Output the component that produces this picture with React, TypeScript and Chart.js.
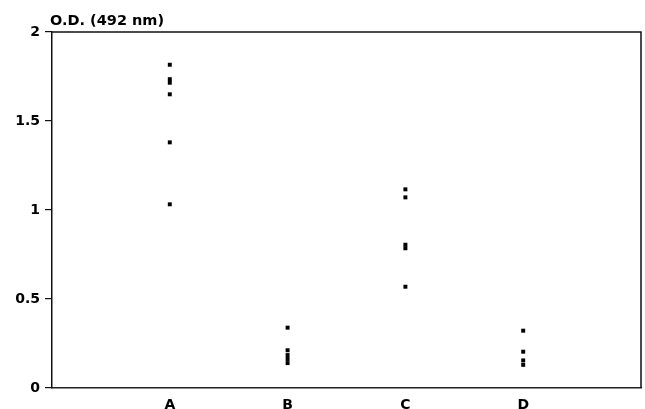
import React, { useEffect, useRef } from "react";
import { Chart, registerables } from "chart.js";

Chart.register(...registerables);

const categories = ["A", "B", "C", "D"];
const valuesA = [1.816, 1.735, 1.715, 1.65, 1.38, 1.032];
const valuesB = [0.339, 0.212, 0.185, 0.163, 0.14];
const valuesC = [1.116, 1.071, 0.805, 0.785, 0.569];
const valuesD = [0.322, 0.204, 0.155, 0.13];
const yTicks = [0, 0.5, 1, 1.5, 2];
const yTitle = "O.D. (492 nm)";

const FONT = "'DejaVu Sans', sans-serif";

export default function App() {
  const ref = useRef<HTMLCanvasElement | null>(null);

  useEffect(() => {
    if (!ref.current) return;
    const all = [valuesA, valuesB, valuesC, valuesD];
    const points = all.flatMap((arr, i) => arr.map((v) => ({ x: i + 1, y: v })));

    const framePlugin = {
      id: "frame",
      afterDraw(chart: any) {
        const { ctx, chartArea } = chart;
        ctx.save();
        ctx.strokeStyle = "#111";
        ctx.lineWidth = 1.5;
        ctx.beginPath();
        ctx.moveTo(chartArea.left, chartArea.top);
        ctx.lineTo(chartArea.right, chartArea.top);
        ctx.lineTo(chartArea.right, chartArea.bottom);
        ctx.stroke();
        ctx.fillStyle = "#000";
        ctx.font = `bold 14.5px ${FONT}`;
        ctx.textAlign = "left";
        ctx.textBaseline = "alphabetic";
        ctx.fillText(yTitle, 50, 25);
        ctx.restore();
      },
    };

    const chart = new Chart(ref.current, {
      type: "scatter",
      data: {
        datasets: [
          {
            data: points,
            pointStyle: "rect",
            pointRadius: 2.8,
            pointBorderWidth: 0,
            backgroundColor: "#000",
            borderColor: "#000",
          },
        ],
      },
      options: {
        animation: false,
        responsive: false,
        devicePixelRatio: 1,
        layout: { padding: { top: 32, right: 0, left: 0, bottom: 0 } },
        plugins: {
          legend: { display: false },
          tooltip: { enabled: false },
          title: { display: false },
        },
        scales: {
          x: {
            type: "linear",
            min: 0,
            max: 5,
            afterFit: (s: any) => {
              s.height = 21;
            },
            afterBuildTicks: (s: any) => {
              s.ticks = categories.map((_, i) => ({ value: i + 1 }));
            },
            ticks: {
              autoSkip: false,
              maxRotation: 0,
              padding: 1,
              color: "#000",
              font: { family: FONT, size: 14, weight: "bold" },
              callback: (v: any) => categories[Number(v) - 1] ?? "",
            },
            grid: { display: false },
            border: { display: true, color: "#222", width: 1.5 },
          },
          y: {
            type: "linear",
            min: 0,
            max: 2,
            afterFit: (s: any) => {
              s.width = 52;
            },
            afterBuildTicks: (s: any) => {
              s.ticks = yTicks.map((v) => ({ value: v }));
            },
            ticks: {
              padding: 5,
              color: "#000",
              font: { family: FONT, size: 14, weight: "bold" },
              callback: (v: any) => String(v),
            },
            grid: {
              drawOnChartArea: false,
              drawTicks: true,
              tickLength: 7,
              color: "#111",
              lineWidth: 1.2,
            },
            border: { display: true, color: "#111", width: 1.5 },
          },
        },
      },
      plugins: [framePlugin],
    });
    return () => chart.destroy();
  }, []);

  return (
    <div style={{ position: "absolute", left: 0, top: 0, width: 645, height: 409, background: "#fff" }}>
      <canvas ref={ref} width={645} height={409} style={{ display: "block" }} />
    </div>
  );
}
